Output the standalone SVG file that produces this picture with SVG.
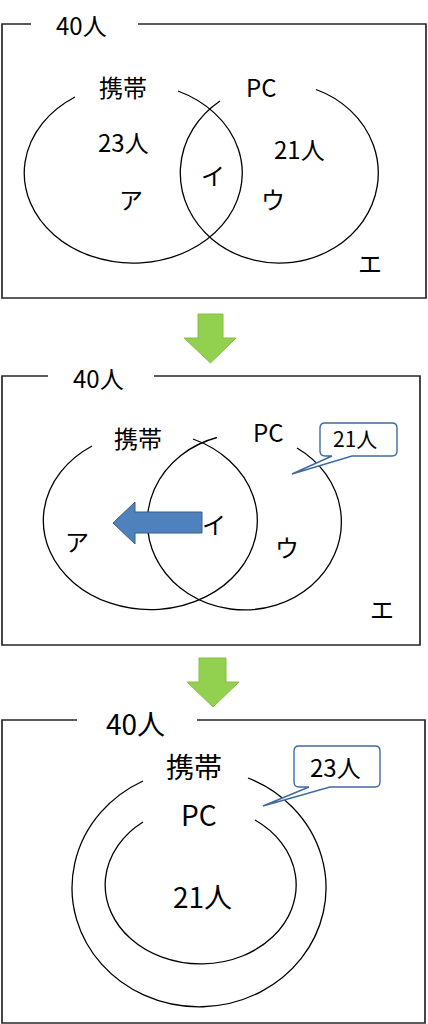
<svg xmlns="http://www.w3.org/2000/svg" width="428" height="1024" viewBox="0 0 428 1024">
  <style>
    .frame { fill: none; stroke: #262626; stroke-width: 1.7; }
    .set { fill: none; stroke: #000000; stroke-width: 1.3; }
    .t { font-family: "Noto Sans CJK JP", "Noto Sans", sans-serif; fill: #000000; }
    .t1 { font-size: 24px; }
    .t3 { font-size: 28px; }
    .tc { font-size: 21px; }
    .go { fill: #92D050; stroke: #84c040; stroke-width: 1; }
    .callout { fill: #ffffff; stroke: #3e6b9f; stroke-width: 1.4; }
    .move { fill: #4F81BD; stroke: #385D8A; stroke-width: 1; }
  </style>

  <!-- Panel 1 -->
  <g id="panel1">
    <path class="frame" d="M31,24 H2 V298 H426 V24 H138"/>
    <text class="t t1" x="56" y="35">40人</text>
  </g>
  <g id="p1-keitai">
    <path class="set" d="M178,91 A109 90 0 1 1 75,97"/>
    <text class="t t1" x="99" y="97">携帯</text>
    <text class="t t1" x="98" y="152">23人</text>
  </g>
  <g id="p1-pc">
    <path class="set" d="M316,89.5 A99 90 0 1 1 220,101"/>
    <text class="t t1" x="246" y="97">PC</text>
    <text class="t t1" x="274" y="159">21人</text>
  </g>
  <g id="p1-regions">
    <text class="t t1" x="119" y="209">ア</text>
    <text class="t t1" x="201" y="185">イ</text>
    <text class="t t1" x="261" y="209">ウ</text>
    <text class="t t1" x="358" y="273">エ</text>
  </g>

  <!-- Panel 2 -->
  <g id="panel2">
    <path class="frame" d="M48,376 H2 V645 H420 V376 H154"/>
    <text class="t t1" x="73" y="388">40人</text>
  </g>
  <g id="p2-keitai">
    <path class="set" d="M193,439 A107 89 0 1 1 92,446"/>
    <text class="t t1" x="114" y="448">携帯</text>
  </g>
  <g id="p2-pc">
    <path class="set" d="M297,448 A97 88 0 1 1 217,437.5"/>
    <text class="t t1" x="253" y="442">PC</text>
  </g>
  <g id="p2-regions">
    <text class="t t1" x="65" y="551">ア</text>
    <text class="t t1" x="202" y="534">イ</text>
    <text class="t t1" x="275" y="557">ウ</text>
    <text class="t t1" x="370" y="619">エ</text>
  </g>
  <g id="p2-callout">
    <path class="callout" d="M325,423 H392 Q397,423 397,428 V451 Q397,456 392,456 H352 L292,474 L332,456 H325 Q320,456 320,451 V428 Q320,423 325,423 Z"/>
    <text class="t tc" x="333" y="447">21人</text>
  </g>

  <!-- Panel 3 -->
  <g id="panel3">
    <path class="frame" d="M77,720 H2 V1023 H425 V720 H197"/>
    <text class="t t3" x="106" y="735">40人</text>
  </g>
  <g id="p3-keitai">
    <path class="set" d="M248,778 A127 119 0 1 1 143,781"/>
    <text class="t t3" x="166" y="778">携帯</text>
  </g>
  <g id="p3-pc">
    <path class="set" d="M255,820 A95.5 79 0 1 1 143,822"/>
    <text class="t t3" x="181" y="826">PC</text>
    <text class="t t3" x="173" y="908">21人</text>
  </g>
  <g id="p3-callout">
    <path class="callout" d="M299,746 H375 Q380,746 380,751 V782 Q380,787 375,787 H330 L263,806 L309,787 H299 Q294,787 294,782 V751 Q294,746 299,746 Z"/>
    <text class="t" style="font-size:24px" x="310" y="777">23人</text>
  </g>

  <!-- Connectors / arrows -->
  <g id="connectors">
    <polygon class="go" points="198,314 223,314 223,338 236,338 210.5,363 184,338 198,338"/>
    <polygon class="go" points="199,658 226,658 226,682 239,682 213,707 187,682 199,682"/>
    <polygon class="move" points="202,512 135,512 135,502 113,523 135,544 135,533 202,533"/>
  </g>
</svg>
